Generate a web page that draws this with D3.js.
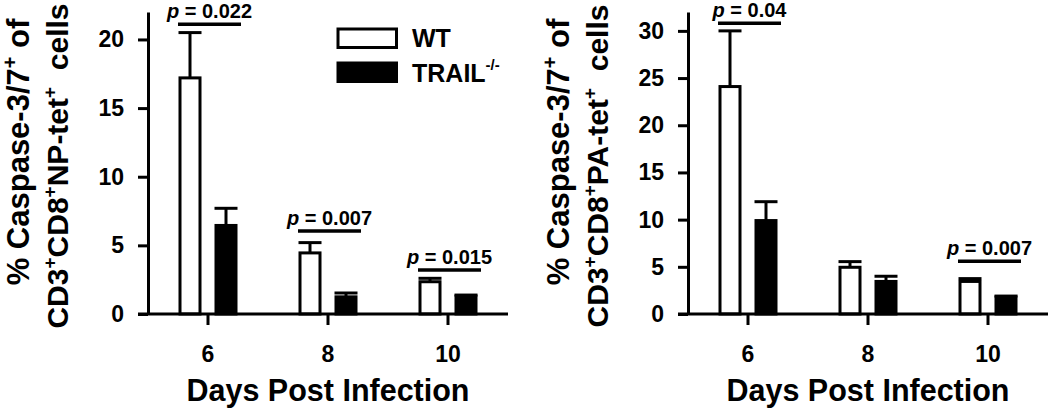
<!DOCTYPE html>
<html>
<head>
<meta charset="utf-8">
<script src="https://cdn.jsdelivr.net/npm/d3@7"></script>
<style>
  body { margin: 0; background: #fff; }
  svg { display: block; font-family: "Liberation Sans", Arial, sans-serif; font-weight: bold; }
</style>
</head>
<body>
<svg id="chart" width="1050" height="408"></svg>
<script>
// data
const days = [6, 8, 10];
const groups = ['WT', 'TRAIL'];

// NP-tet+ panel
const npWT = [17.2, 4.45, 2.35];
const npWTErr = [3.3, 0.75, 0.25];
const npKO = [6.45, 1.25, 1.3];
const npKOErr = [1.25, 0.28, 0.08];
const npTicks = [0, 5, 10, 15, 20];
const npPDays = [6, 8, 10];
const npPLabels = ['0.022', '0.007', '0.015'];
const npPLevels = [21.1, 6.05, 3.2];

// PA-tet+ panel
const paWT = [24.1, 4.95, 3.45];
const paWTErr = [5.9, 0.6, 0.3];
const paKO = [9.9, 3.45, 1.8];
const paKOErr = [2.0, 0.55, 0.1];
const paTicks = [0, 5, 10, 15, 20, 25, 30];
const paPDays = [6, 10];
const paPLabels = ['0.04', '0.007'];
const paPLevels = [30.8, 5.6];

const svg = d3.select('#chart');

function drawPanel(opt) {
  const x = d3.scaleBand().domain(days).range([opt.left, opt.left + 360]);
  const y = d3.scaleLinear().domain([0, opt.yMax]).range([314, 12]);
  const off = d3.scalePoint().domain(groups).range([-18, 18]);
  const cx = (d, g) => x(d) + x.bandwidth() / 2 + off(g);
  const barW = 20;

  const g = svg.append('g');

  // bars + error bars
  groups.forEach((grp, gi) => {
    const vals = gi === 0 ? opt.wt : opt.ko;
    const errs = gi === 0 ? opt.wtErr : opt.koErr;
    const rows = days.map((d, i) => ({ day: d, v: vals[i], e: errs[i] }));

    g.selectAll(null).data(rows).enter().append('line')
      .attr('x1', d => cx(d.day, grp)).attr('x2', d => cx(d.day, grp))
      .attr('y1', d => y(d.v)).attr('y2', d => y(d.v + d.e))
      .attr('stroke', '#000').attr('stroke-width', 3);
    g.selectAll(null).data(rows).enter().append('line')
      .attr('x1', d => cx(d.day, grp) - 11.5).attr('x2', d => cx(d.day, grp) + 11.5)
      .attr('y1', d => y(d.v + d.e)).attr('y2', d => y(d.v + d.e))
      .attr('stroke', '#000').attr('stroke-width', 3);

    g.selectAll(null).data(rows).enter().append('rect')
      .attr('x', d => cx(d.day, grp) - barW / 2)
      .attr('y', d => y(d.v))
      .attr('width', barW)
      .attr('height', d => y(0) - y(d.v))
      .attr('fill', gi === 0 ? '#fff' : '#000')
      .attr('stroke', '#000').attr('stroke-width', 3);
  });

  // y axis
  const ya = g.append('g')
    .attr('transform', `translate(${opt.left},0)`)
    .call(d3.axisLeft(y).tickValues(opt.ticks).tickSize(10).tickSizeOuter(0).tickPadding(14));
  ya.selectAll('path, line').attr('stroke', '#000').attr('stroke-width', 3);
  ya.selectAll('text').style('font-size', '23px').style('font-family', '"Liberation Sans", Arial, sans-serif').style('font-weight', 'bold').attr('fill', '#000');

  // x axis
  const xa = g.append('g')
    .attr('transform', 'translate(0,314)')
    .call(d3.axisBottom(x).tickSize(11).tickSizeOuter(0).tickPadding(21));
  xa.select('path').attr('d', `M${opt.left - 10},0H${opt.left + 360}`);
  xa.selectAll('path, line').attr('stroke', '#000').attr('stroke-width', 3);
  xa.selectAll('text').style('font-size', '23px').style('font-family', '"Liberation Sans", Arial, sans-serif').style('font-weight', 'bold').attr('fill', '#000');

  g.append('text')
    .attr('x', x(8) + x.bandwidth() / 2)
    .attr('y', 401)
    .attr('text-anchor', 'middle')
    .style('font-size', '30.5px')
    .text('Days Post Infection');

  // y title, two rotated lines
  const t1 = g.append('text')
    .attr('transform', `translate(${opt.left - 119},152) rotate(-90)`)
    .attr('text-anchor', 'middle')
    .style('font-size', '31px');
  t1.append('tspan').text('% Caspase-3/7');
  t1.append('tspan').attr('dy', -12).style('font-size', '20px').text('+');
  t1.append('tspan').attr('dy', 12).text('\u00a0of');

  const t2 = g.append('text')
    .attr('transform', `translate(${opt.left - 80},166) rotate(-90)`)
    .attr('text-anchor', 'middle')
    .style('font-size', '30px');
  t2.append('tspan').text('CD3');
  t2.append('tspan').attr('dy', -12).style('font-size', '19px').text('+');
  t2.append('tspan').attr('dy', 12).text('CD8');
  t2.append('tspan').attr('dy', -12).style('font-size', '19px').text('+');
  t2.append('tspan').attr('dy', 12).text(opt.antigen + '-tet');
  t2.append('tspan').attr('dy', -12).style('font-size', '19px').text('+');
  t2.append('tspan').attr('dy', 12).text('\u00a0 cells');

  // p-value brackets
  const prow = opt.pDays.map((d, i) => ({ day: d, label: opt.pLabels[i], lvl: opt.pLevels[i] }));
  g.selectAll(null).data(prow).enter().append('line')
    .attr('x1', d => cx(d.day, 'WT') - 12)
    .attr('x2', d => cx(d.day, 'TRAIL') + 15)
    .attr('y1', d => y(d.lvl)).attr('y2', d => y(d.lvl))
    .attr('stroke', '#000').attr('stroke-width', 3.5);
  const pt = g.selectAll(null).data(prow).enter().append('text')
    .attr('x', d => (cx(d.day, 'WT') + cx(d.day, 'TRAIL')) / 2 + 1.5)
    .attr('y', d => y(d.lvl) - 6)
    .attr('text-anchor', 'middle')
    .style('font-size', '20px');
  pt.append('tspan').style('font-style', 'italic').text('p');
  pt.append('tspan').text(d => ' = ' + d.label);

  return g;
}

drawPanel({ left: 148, yMax: 22, ticks: npTicks, wt: npWT, wtErr: npWTErr, ko: npKO, koErr: npKOErr,
  antigen: 'NP', pDays: npPDays, pLabels: npPLabels, pLevels: npPLevels });
drawPanel({ left: 688, yMax: 32, ticks: paTicks, wt: paWT, wtErr: paWTErr, ko: paKO, koErr: paKOErr,
  antigen: 'PA', pDays: paPDays, pLabels: paPLabels, pLevels: paPLevels });

// legend
const legend = svg.append('g').attr('transform', 'translate(338,29)');
legend.selectAll('rect').data(groups).enter().append('rect')
  .attr('x', 0).attr('y', (d, i) => i * 34)
  .attr('width', 58.5).attr('height', 18.5)
  .attr('fill', (d, i) => i === 0 ? '#fff' : '#000')
  .attr('stroke', '#000').attr('stroke-width', 3);
legend.append('text').attr('x', 74).attr('y', 18).style('font-size', '25px').text('WT');
const lt = legend.append('text').attr('x', 74).attr('y', 53).style('font-size', '25px');
lt.append('tspan').text('TRAIL');
lt.append('tspan').attr('dy', -12).style('font-size', '15px').text('-/-');
</script>
</body>
</html>
